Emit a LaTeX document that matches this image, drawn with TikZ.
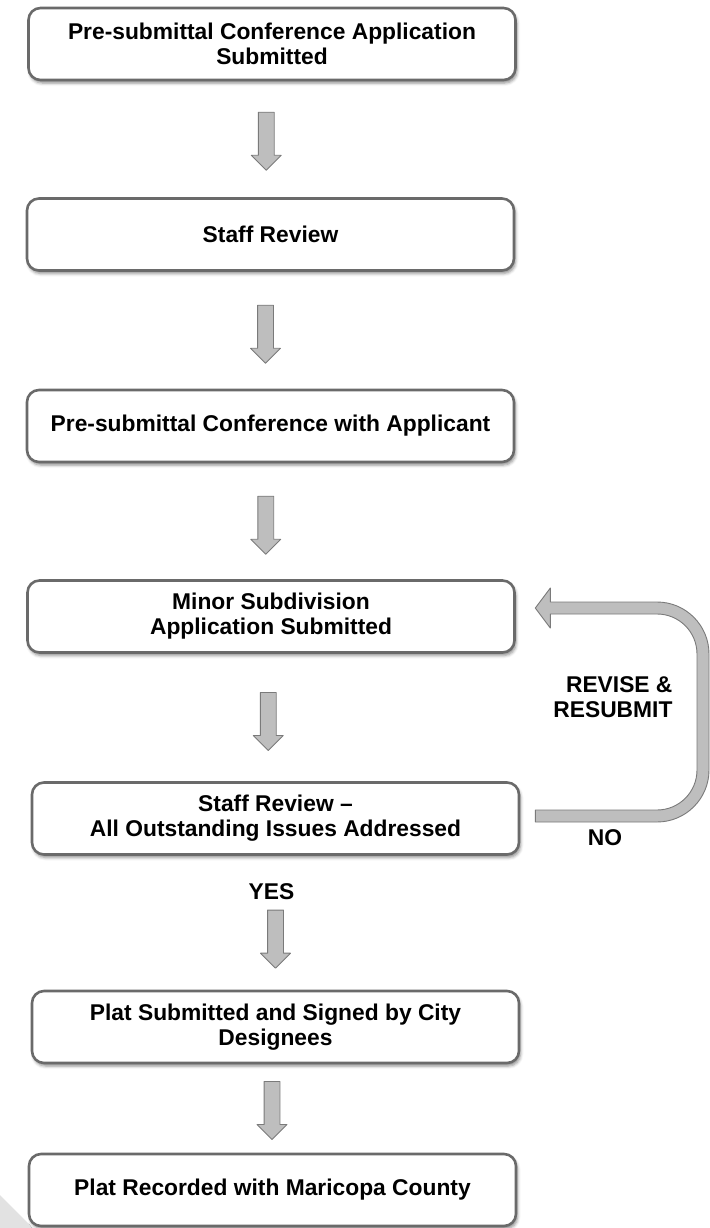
\documentclass[tikz,border=0pt]{standalone}
\usepackage{fontspec}
\setmainfont{Liberation Sans}
\usetikzlibrary{shapes.arrows,shadows.blur,calc}
\definecolor{boxline}{HTML}{6A6A6A}
\definecolor{arrowfill}{HTML}{BEBEBE}
\definecolor{arrowline}{HTML}{7A7A7A}
\definecolor{curl}{HTML}{E2E2E2}
\tikzset{
  every picture/.style={font=\fontsize{22.8}{25}\selectfont\bfseries, line join=round},
  stagebox/.style={draw=boxline, line width=2.6pt, rounded corners=12pt, fill=white,
    minimum width=487pt, minimum height=72pt, align=center, inner sep=0pt,
    blur shadow={shadow xshift=1.5pt, shadow yshift=-3pt, shadow blur radius=3pt, shadow opacity=45}},
  flowarrow/.style={single arrow, draw=arrowline, fill=arrowfill, line width=0.9pt,
    minimum height=58pt, minimum width=29pt, single arrow head extend=7pt,
    single arrow head indent=0pt, inner xsep=0pt, inner ysep=7.5pt, rotate=-90},
  looparrow/.style={draw=arrowline, fill=arrowfill, line width=0.9pt},
}
\begin{document}
\begin{tikzpicture}[x=1pt,y=1pt]
\useasboundingbox (0,0) rectangle (709,-1228);
% faint page curl
\fill[curl] (0,-1195) -- (33,-1228) -- (0,-1228) -- cycle;

\node[stagebox] (b1) at (272,-44) {Pre-submittal Conference Application\\Submitted};
\node[stagebox] (b2) at (270.5,-234.5) {Staff Review};
\node[stagebox] (b3) at (270.5,-426) {Pre-submittal Conference with Applicant};
\node[stagebox] (b4) at (271,-616.5) {Minor Subdivision\\Application Submitted};
\node[stagebox] (b5) at (275.5,-818.5) {Staff Review --\\All Outstanding Issues Addressed};
\node[stagebox] (b6) at (275.5,-1027) {Plat Submitted and Signed by City\\Designees};
\node[stagebox] (b7) at (272.5,-1190) {Plat Recorded with Maricopa County};

% down arrows
\path (b1.south) -- node[flowarrow, xshift=-2pt, yshift=-5pt] {} (b2.north);
\path (b2.south) -- node[flowarrow, yshift=-5pt] {} (b3.north);
\path (b3.south) -- node[flowarrow, yshift=-5pt] {} (b4.north);
\path (b4.south) -- node[flowarrow, yshift=-5pt] {} (b5.north);
\path (b5.south) -- node[pos=0.27, xshift=-4pt] (yes) {YES}
  node[pos=0.63, flowarrow, xshift=-5pt] {} (b6.north);
\path (b6.south) -- node[flowarrow, xshift=-2pt, yshift=-2pt] {} (b7.north);

% revise loop
\coordinate (tip) at ([xshift=19.5pt,yshift=8.5pt]b4.east);
\coordinate (tail) at ([xshift=15pt,yshift=2.5pt]b5.east);
\draw[looparrow] let \p1=(tip), \p2=(tail) in
  (\x1+15,\y1+6) -- (657,\y1+6) arc[start angle=90, end angle=0, radius=52]
  -- (709,\y2-6+52) arc[start angle=0, end angle=-90, radius=52]
  -- (\x2,\y2-6) -- (\x2,\y2+6)
  -- (657,\y2+6) arc[start angle=-90, end angle=0, radius=40]
  -- (697,\y1+6-52) arc[start angle=0, end angle=90, radius=40]
  -- (\x1+15,\y1-6) -- (\x1+15,\y1-20) -- (tip) -- (\x1+15,\y1+20) -- cycle;
\node[anchor=east, align=right] (revise) at (676,-697) {REVISE \&\\RESUBMIT};
\node (no) at (605,-838) {NO};
\end{tikzpicture}
\end{document}
